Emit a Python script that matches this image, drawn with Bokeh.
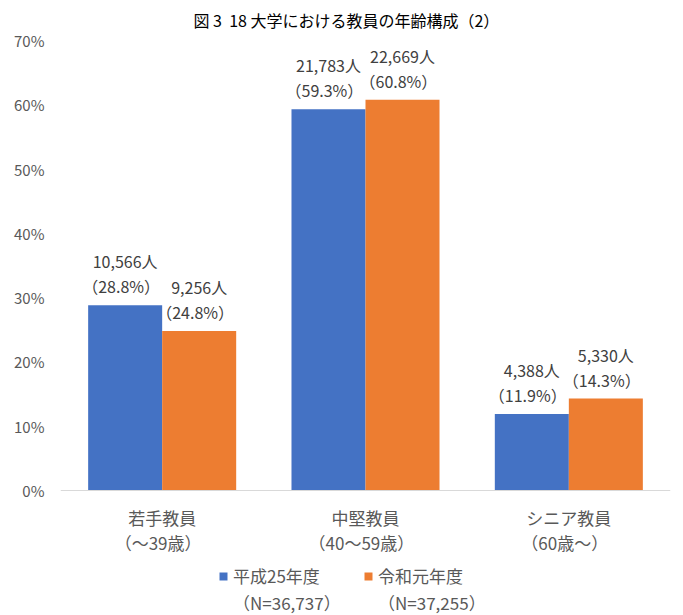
from bokeh.plotting import figure
from bokeh.models import (FactorRange, FixedTicker, NumeralTickFormatter, ColumnDataSource,
                          Legend, LegendItem, Title, Span)
from bokeh.transform import dodge
from bokeh.core.properties import value
from bokeh.embed import file_html
from bokeh.resources import INLINE

FONT = "Noto Sans CJK JP"

categories = ["若手教員", "中堅教員", "シニア教員"]
age_ranges = ["（～39歳）", "（40～59歳）", "（60歳～）"]
series_names = ["平成25年度", "令和元年度"]
series_n = ["（N=36,737）", "（N=37,255）"]
h25_pct = [28.8, 59.3, 11.9]
r1_pct = [24.8, 60.8, 14.3]
h25_count = [10566, 21783, 4388]
r1_count = [9256, 22669, 5330]
y_ticks = [0, 0.1, 0.2, 0.3, 0.4, 0.5, 0.6, 0.7]

BLUE = "#4472C4"
ORANGE = "#ED7D31"

# frame: 0% at 450px below top (0.7), extended 125px further to host category labels & legend
Y_TOP = 0.7
Y_BOTTOM = -125 * 0.7 / 450

def make_source(pcts, counts):
    return ColumnDataSource(dict(
        cat=categories,
        val=[v / 100 for v in pcts],
        cnt=[f"{c:,}人" for c in counts],
        pct=[f"（{v:.1f}%）" for v in pcts],
    ))

src_a = make_source(h25_pct, h25_count)
src_b = make_source(r1_pct, r1_count)
src_cat = ColumnDataSource(dict(cat=categories, age=age_ranges, zero=[0] * len(categories)))

p = figure(width=683, height=615, x_range=FactorRange(*categories), y_range=(Y_BOTTOM, Y_TOP),
           output_backend="svg", toolbar_location=None,
           min_border_left=60, min_border_right=13, min_border_top=40, min_border_bottom=0)
p.outline_line_color = None
p.xgrid.grid_line_color = None
p.ygrid.grid_line_color = None
p.xaxis.visible = False

p.add_layout(Title(text="図 3\u00a0\u00a018 大学における教員の年齢構成（2）", align="left", offset=133,
                   vertical_align="top", standoff=14, text_font=FONT, text_font_size="16px",
                   text_font_style="normal", text_color="#000000"), "above")

p.add_layout(Span(location=0, dimension="width", line_color="#D9D9D9", line_width=1))

off = 0.182
w = 0.364
ra = p.vbar(x=dodge("cat", -off, range=p.x_range), top="val", width=w, source=src_a,
            fill_color=BLUE, line_color=None)
rb = p.vbar(x=dodge("cat", off, range=p.x_range), top="val", width=w, source=src_b,
            fill_color=ORANGE, line_color=None)
# transparent renderer used only for the second legend row
rt = p.vbar(x=[], top=[], width=w, fill_alpha=0, line_alpha=0)

for src, d in ((src_a, -off), (src_b, off)):
    p.text(x=dodge("cat", d, range=p.x_range), y="val", text="cnt", source=src,
           y_offset=-44, text_align="center", text_baseline="middle",
           text_font=value(FONT), text_font_size="16px", text_color="#404040")
    p.text(x=dodge("cat", d - 0.02, range=p.x_range), y="val", text="pct", source=src,
           y_offset=-19, text_align="center", text_baseline="middle",
           text_font=value(FONT), text_font_size="16px", text_color="#404040")

# category labels (two lines) below the baseline
p.text(x="cat", y="zero", text="cat", source=src_cat, y_offset=27,
       text_align="center", text_baseline="middle",
       text_font=value(FONT), text_font_size="17px", text_color="#595959")
p.text(x=dodge("cat", -0.02, range=p.x_range), y="zero", text="age", source=src_cat, y_offset=52,
       text_align="center", text_baseline="middle",
       text_font=value(FONT), text_font_size="17px", text_color="#595959")

p.yaxis.ticker = FixedTicker(ticks=y_ticks)
p.yaxis.formatter = NumeralTickFormatter(format="0%")
p.yaxis.axis_line_color = None
p.yaxis.major_tick_line_color = None
p.yaxis.minor_tick_line_color = None
p.yaxis.major_label_standoff = 10
p.yaxis.major_label_text_font = FONT
p.yaxis.major_label_text_font_size = "15px"
p.yaxis.major_label_text_color = "#595959"

legend = Legend(items=[LegendItem(label=series_names[0], renderers=[ra]),
                       LegendItem(label=series_names[1], renderers=[rb]),
                       LegendItem(label=series_n[0], renderers=[rt]),
                       LegendItem(label=series_n[1], renderers=[rt])],
                orientation="horizontal", nrows=2, location=(158, 0),
                label_text_font=FONT, label_text_font_size="17px", label_text_color="#595959",
                label_text_line_height=1.0,
                glyph_width=10, glyph_height=10, label_standoff=5, spacing=2, label_width=128,
                border_line_color=None, background_fill_alpha=0, padding=0, margin=0)
p.add_layout(legend, "center")

open("out.html", "w").write(file_html(p, INLINE))
